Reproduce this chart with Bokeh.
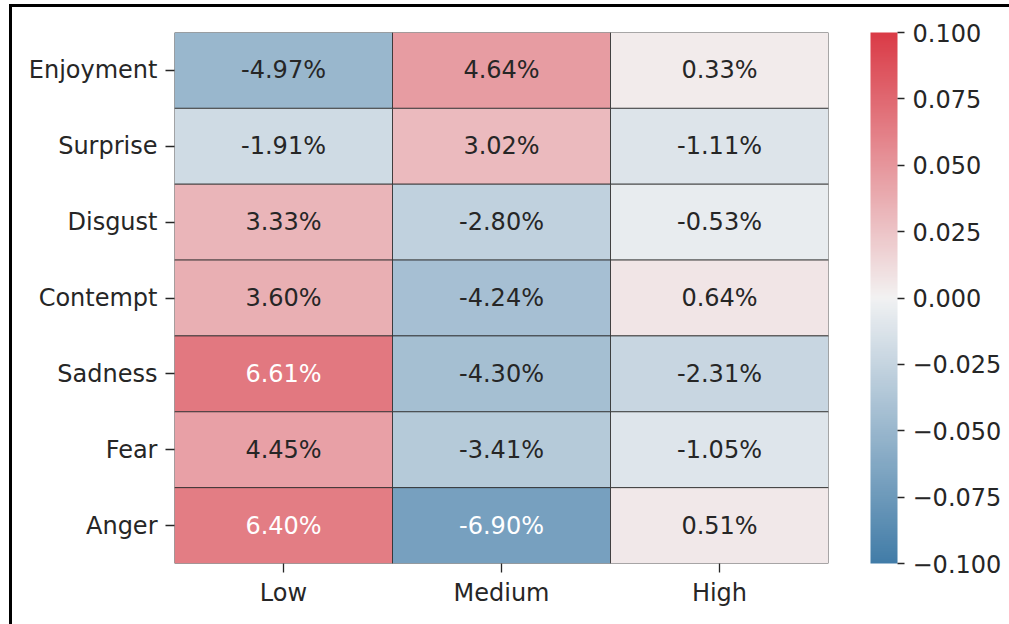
import math
import numpy as np
from bokeh.plotting import figure
from bokeh.models import (ColumnDataSource, LinearColorMapper, ColorBar, FixedTicker,
                          CustomJSTickFormatter, FactorRange, InlineStyleSheet)
from bokeh.embed import file_html
from bokeh.resources import INLINE

emotions = ["Enjoyment", "Surprise", "Disgust", "Contempt", "Sadness", "Fear", "Anger"]
levels = ["Low", "Medium", "High"]
low_vals = [-4.97, -1.91, 3.33, 3.60, 6.61, 4.45, 6.40]
medium_vals = [4.64, 3.02, -2.80, -4.24, -4.30, -3.41, -6.90]
high_vals = [0.33, -1.11, -0.53, 0.64, -2.31, -1.05, 0.51]
cbar_ticks = [-0.1, -0.075, -0.05, -0.025, 0.0, 0.025, 0.05, 0.075, 0.1]

# ---- seaborn diverging_palette(240, 10) via HUSL ----
M = [[3.240969941904521, -1.537383177570093, -0.498610760293],
     [-0.96924363628087, 1.87596750150772, 0.041555057407175],
     [0.055630079696993, -0.20397695888897, 1.056971514242878]]
refU, refV = 0.19783000664283, 0.46831999493879
kappa, epsilon = 903.2962962, 0.0088564516

def get_bounds(L):
    sub1 = ((L + 16.0) ** 3.0) / 1560896.0
    sub2 = sub1 if sub1 > epsilon else L / kappa
    ret = []
    for m1, m2, m3 in M:
        for t in (0, 1):
            top1 = (284517.0 * m1 - 94839.0 * m3) * sub2
            top2 = (838422.0 * m3 + 769860.0 * m2 + 731718.0 * m1) * L * sub2 - 769860.0 * t * L
            bottom = (632260.0 * m3 - 126452.0 * m2) * sub2 + 126452.0 * t
            ret.append((top1 / bottom, top2 / bottom))
    return ret

def max_chroma(L, H):
    hr = math.radians(H)
    s, c = math.sin(hr), math.cos(hr)
    res = float("inf")
    for m1, b1 in get_bounds(L):
        ln = b1 / (s - m1 * c)
        if ln > 0:
            res = min(res, ln)
    return res

def from_linear(c):
    return 12.92 * c if c <= 0.0031308 else 1.055 * c ** (1 / 2.4) - 0.055

def husl_to_rgb(H, S, L):
    C = max_chroma(L, H) / 100.0 * S
    hr = math.radians(H)
    U, V = math.cos(hr) * C, math.sin(hr) * C
    Y = ((L + 16.0) / 116.0) ** 3 if L > 8 else L / kappa
    vU = U / (13.0 * L) + refU
    vV = V / (13.0 * L) + refV
    X = -(9.0 * Y * vU) / ((vU - 4.0) * vV - vU * vV)
    Z = (9.0 * Y - 15.0 * vV * Y - vV * X) / (3.0 * vV)
    rgb = [from_linear(sum(a * b for a, b in zip(row, (X, Y, Z)))) for row in M]
    return [min(max(v, 0.0), 1.0) for v in rgb]

def blend(c0, c1, n):
    return [[c0[k] + (c1[k] - c0[k]) * i / (n - 1) for k in range(3)] for i in range(n)]

neg = husl_to_rgb(240, 75, 50); neg_g = husl_to_rgb(240, 75 * 0.15, 95)
pos = husl_to_rgb(10, 75, 50); pos_g = husl_to_rgb(10, 75 * 0.15, 95)
anchors = blend(neg, neg_g, 128) + [[0.95, 0.95, 0.95]] + blend(pos_g, pos, 128)
anchors = np.array(anchors)
ap = np.linspace(0, 1, len(anchors))
xs = np.linspace(0, 1, 256)
pal_rgb = np.stack([np.interp(xs, ap, anchors[:, k]) for k in range(3)], axis=1)
palette = ["#%02x%02x%02x" % tuple(int(round(v * 255)) for v in c) for c in pal_rgb]

def color_of(v):
    idx = int(np.clip((v + 0.1) / 0.2 * 256, 0, 255))
    return pal_rgb[idx]

def lum(c):
    lin = [x / 12.92 if x <= 0.03928 else ((x + 0.055) / 1.055) ** 2.4 for x in c]
    return 0.2126 * lin[0] + 0.7152 * lin[1] + 0.0722 * lin[2]

xs_c, ys_c, vals, labels, tcol = [], [], [], [], []
for lev, arr in zip(levels, [low_vals, medium_vals, high_vals]):
    for emo, v in zip(emotions, arr):
        f = v / 100.0
        xs_c.append(lev); ys_c.append(emo); vals.append(f)
        labels.append("%.2f%%" % v)
        tcol.append("#262626" if lum(color_of(f)) > 0.408 else "#ffffff")

src = ColumnDataSource(dict(x=xs_c, y=ys_c, v=vals, label=labels, tc=tcol))
mapper = LinearColorMapper(palette=palette, low=-0.1, high=0.1)

FONT = "DejaVu Sans"
FS = "24px"
TXT = "#262626"

p = figure(width=1009, height=624, x_range=FactorRange(*levels),
           y_range=FactorRange(*reversed(emotions)),
           output_backend="svg", toolbar_location=None,
           min_border_left=174, min_border_top=32, min_border_bottom=61, min_border_right=181)
p.border_fill_color = None
p.stylesheets = [InlineStyleSheet(css=(
    ":host { background: "
    "linear-gradient(#000, #000) 9px 4px / 3px 640px no-repeat, "
    "linear-gradient(#000, #000) 9px 4px / 1010px 3px no-repeat, #ffffff; }"))]

p.rect(x="x", y="y", width=1, height=1, source=src,
       fill_color={"field": "v", "transform": mapper},
       line_color="#2a2a2a", line_width=0.8)
p.text(x="x", y="y", text="label", source=src, text_color="tc",
       text_align="center", text_baseline="middle",
       text_font={"value": FONT}, text_font_size={"value": FS})

for ax in (p.xaxis[0], p.yaxis[0]):
    ax.axis_line_color = None
    ax.major_tick_line_color = TXT
    ax.major_tick_line_width = 1.3
    ax.major_tick_out = 9
    ax.major_tick_in = 0
    ax.minor_tick_line_color = None
    ax.major_label_text_font = FONT
    ax.major_label_text_font_size = FS
    ax.major_label_text_color = TXT
    ax.major_label_standoff = 6
p.yaxis[0].major_label_standoff = 8
p.xgrid.grid_line_color = None
p.ygrid.grid_line_color = None
p.outline_line_color = None
p.x_range.range_padding = 0
p.y_range.range_padding = 0

cb = ColorBar(color_mapper=mapper, ticker=FixedTicker(ticks=cbar_ticks),
              formatter=CustomJSTickFormatter(code="return (tick < -1e-9 ? '\\u2212' : '') + Math.abs(tick).toFixed(3);"),
              width=27, height=531, padding=0, margin=0, location=(42, 0),
              major_tick_out=7, major_tick_in=0, major_tick_line_color=TXT,
              major_tick_line_width=1.3, minor_tick_line_color=None,
              bar_line_color=None, border_line_color=None, background_fill_color=None,
              major_label_text_font=FONT, major_label_text_font_size=FS,
              major_label_text_color=TXT, label_standoff=8)
p.add_layout(cb, "right")

open("out.html", "w").write(file_html(p, INLINE))
